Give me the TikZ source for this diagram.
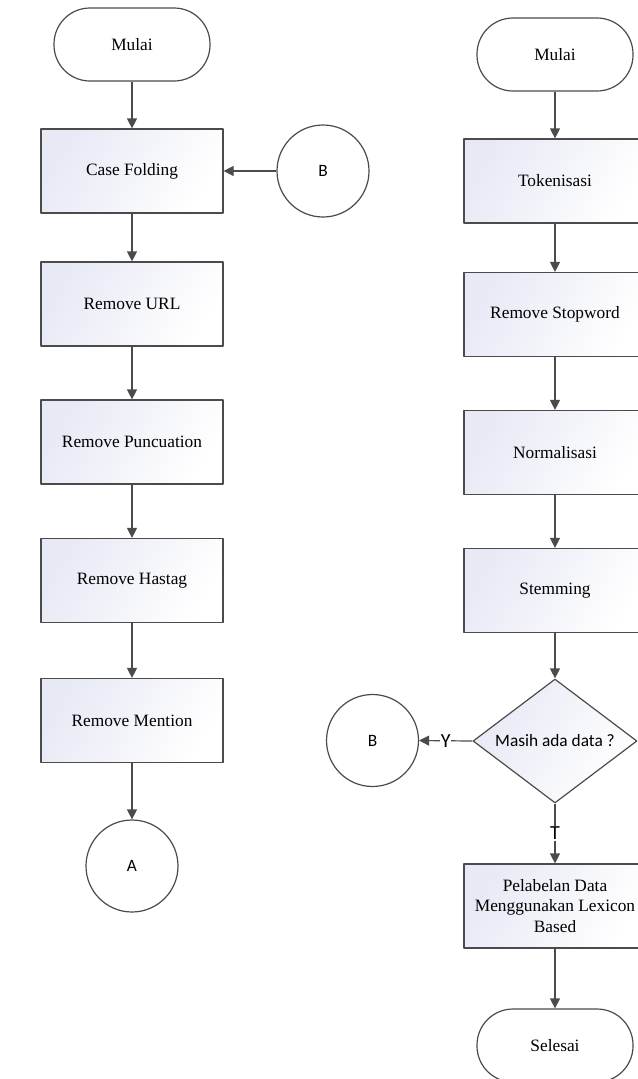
\documentclass[tikz,border=0pt]{standalone}
\usepackage{fontspec}
\setmainfont{Liberation Serif}
\newfontfamily\sansfont{Carlito}
\usetikzlibrary{shapes.geometric,arrows.meta}
\definecolor{garis}{RGB}{75,75,75}
\definecolor{isi}{RGB}{231,233,245}
\begin{document}
\begin{tikzpicture}[x=0.75pt,y=-0.75pt,line join=round,font=\fontsize{13}{15.5}\selectfont,>={Triangle[length=7.5pt,width=7.5pt]}]% 1 unit = 1 px
	\tikzset{proses/.style={draw=garis,line width=0.9pt,left color=isi,right color=white,shading angle=60,minimum width=136.5pt,minimum height=63pt,inner sep=2pt,align=center},
		terminal/.style={draw=garis,line width=0.9pt,fill=white,rounded corners=27pt,minimum width=117pt,minimum height=54.75pt},
		konektor/.style={draw=garis,line width=0.9pt,circle,fill=white,minimum size=69pt,font=\fontsize{13}{15.5}\sansfont},
		keputusan/.style={draw=garis,line width=0.9pt,diamond,left color=isi,right color=white,shading angle=60,shape aspect=1.3,inner sep=0pt,minimum width=123pt,minimum height=93pt,font=\fontsize{13}{15.5}\sansfont},
		panah/.style={->,draw=garis,line width=0.9pt},
		ket/.style={fill=white,inner sep=0.5pt,font=\fontsize{15}{17}\sansfont}}
	\useasboundingbox (0,0) rectangle (638,1079);
	% kolom kiri
	\node[terminal] (mulaiA) at (132,44.5) {Mulai};
	\node[proses] (casefold) at (132,171) {Case Folding};
	\node[proses] (url) at (132,304) {Remove URL};
	\node[proses] (punc) at (132,442) {Remove Puncuation};
	\node[proses] (hastag) at (132,580.5) {Remove Hastag};
	\node[proses] (mention) at (132,720.5) {Remove Mention};
	\node[konektor] (A) at (132,866) {A};
	\node[konektor] (B) at (323,171) {B};
	% kolom kanan
	\node[terminal] (mulaiB) at (555,54.5) {Mulai};
	\node[proses] (token) at (555,181) {Tokenisasi};
	\node[proses] (stop) at (555,314.5) {Remove Stopword};
	\node[proses] (norm) at (555,452.5) {Normalisasi};
	\node[proses] (stem) at (555,590.5) {Stemming};
	\node[keputusan] (cek) at (555,741) {Masih ada data ?};
	\node[konektor] (B') at (372.5,740.5) {B};
	\node[proses] (label) at (555,906) {Pelabelan Data\\Menggunakan Lexicon\\Based};
	\node[terminal] (selesai) at (555,1045.5) {Selesai};
	\foreach \a/\b in {mulaiA/casefold,casefold/url,url/punc,punc/hastag,hastag/mention,mention/A,B/casefold,%alur
		mulaiB/token,token/stop,stop/norm,norm/stem,stem/cek,label/selesai}
	{\draw[panah] (\a)--(\b);}
	\draw[panah] (cek.west)--node[ket]{Y}(B'.east);
	\draw[panah] (cek.south)--node[ket]{T}(label.north);
\end{tikzpicture}
\end{document}
